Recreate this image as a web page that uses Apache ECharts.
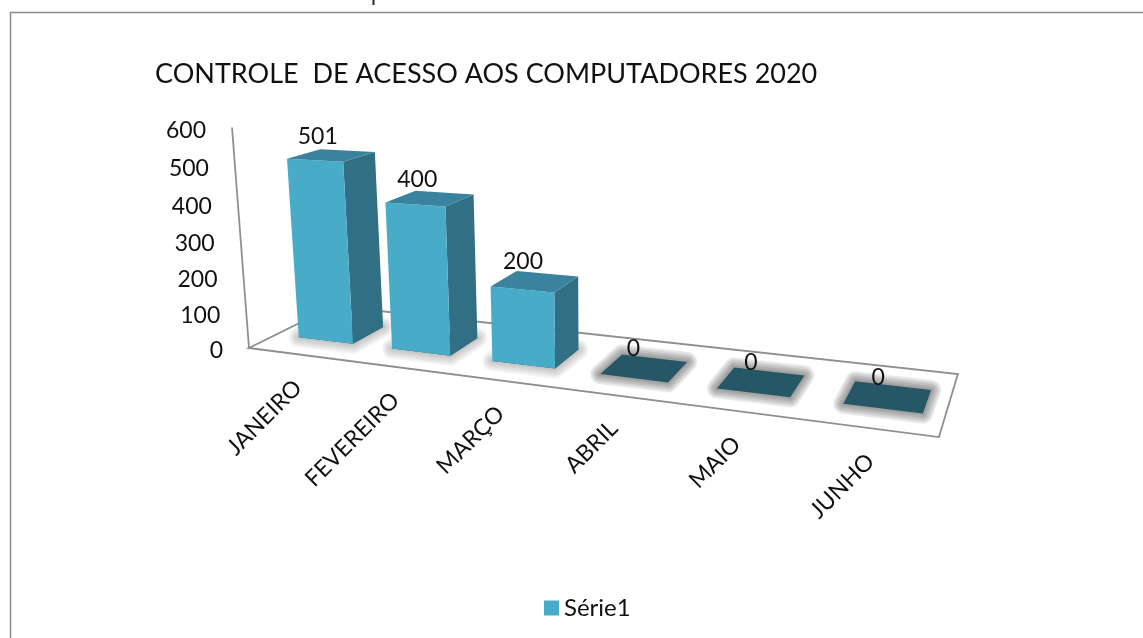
<!DOCTYPE html>
<html>
<head>
<meta charset="utf-8">
<title>Controle de acesso</title>
<style>
  html, body { margin: 0; padding: 0; background: #fff; }
  #chart { width: 1143px; height: 638px; }
</style>
<script src="https://cdn.jsdelivr.net/npm/echarts@6/dist/echarts.min.js"></script>
</head>
<body>
<div id="chart"></div>
<script>
// dados
var titleText = 'CONTROLE  DE ACESSO AOS COMPUTADORES 2020';
var seriesName = 'Série1';
var categories = ['JANEIRO', 'FEVEREIRO', 'MARÇO', 'ABRIL', 'MAIO', 'JUNHO'];
var values = [501, 400, 200, 0, 0, 0];
var yTicks = [0, 100, 200, 300, 400, 500, 600];

var font = 'Lato';
var colFront = '#48acc8', colSide = '#316f85', colTop = '#3a839e', colFlat = '#255766', colLine = '#8f8f8f';

// projecao: u,d no piso (0..1) e h altura (0..1), parametros ajustados na imagem
var G = -0.2122, H = 0.1123, K = -0.0462;
function project(u, d, h) {
  var w = 1 + G * u + H * d + K * h;
  return [
    (490.7 * u + 122.5 * d + 249 - 27.7 * h) / w,
    (-3.7 * u - 7.6 * d + 348 - 226.4 * h) / w
  ];
}
var dFront = 0.3, dBack = 0.68, marginLeft = 0.25, marginRight = 0.16;

// passa o ponto do eixo do echarts para (u,h) e depois projeta
function toUnit(params, api, cat, val) {
  var cs = params.coordSys, p = api.coord([cat, val]);
  return [(p[0] - cs.x) / cs.width, (cs.y + cs.height - p[1]) / cs.height];
}

function renderFloor(params, api) {
  var lineStyle = { stroke: colLine, lineWidth: 1.8, fill: null };
  return {
    type: 'group',
    children: [
      { type: 'polygon', shape: { points: [project(0, 0, 0), project(1, 0, 0), project(1, 1, 0), project(0, 1, 0)] }, style: lineStyle },
      { type: 'polyline', shape: { points: [project(0, 0, 0), project(0, 0, 1)] }, style: lineStyle }
    ]
  };
}

function renderBar(params, api) {
  var i = api.value(0), v = api.value(1);
  var c = toUnit(params, api, i, v);
  var band = api.size([1, 0])[0] / params.coordSys.width;
  var u0 = c[0] - band / 2 + band * marginLeft;
  var u1 = c[0] + band / 2 - band * marginRight;
  var h = c[1];
  var base = [project(u0, dFront, 0), project(u1, dFront, 0), project(u1, dBack, 0), project(u0, dBack, 0)];
  var top = [project(u0, dFront, h), project(u1, dFront, h), project(u1, dBack, h), project(u0, dBack, h)];
  var children = [];
  // sombra suave: contornos sobrepostos, do mais largo ao mais fino
  var shade = v > 0 ? 'rgba(50,50,50,0.06)' : 'rgba(50,50,50,0.11)';
  [20, 16, 12, 8, 4].forEach(function (w) {
    children.push({
      type: 'polygon', shape: { points: base },
      style: { fill: 'none', stroke: shade, lineWidth: w, lineJoin: 'round' }
    });
  });
  children.push({ type: 'polygon', shape: { points: base }, style: { fill: colFlat } });
  if (v > 0) {
    children.push(
      { type: 'polygon', shape: { points: [base[1], base[2], top[2], top[1]] }, style: { fill: colSide } },
      { type: 'polygon', shape: { points: [base[0], base[1], top[1], top[0]] }, style: { fill: colFront } },
      { type: 'polygon', shape: { points: top }, style: { fill: colTop } }
    );
  }
  return { type: 'group', children: children };
}

function renderValueLabel(params, api) {
  var i = api.value(0), v = api.value(1);
  var c = toUnit(params, api, i, v);
  var p = project(c[0], (dFront + dBack) / 2, c[1]);
  return {
    type: 'text', x: p[0] - 10 + 7 * c[0], y: p[1] - 19,
    style: { text: String(v), font: '23px ' + font, fill: '#111', textAlign: 'center', textVerticalAlign: 'middle' }
  };
}

function renderTick(params, api) {
  var c = toUnit(params, api, 0, api.value(0));
  var p = project(0, 0, c[1]);
  return {
    type: 'text', x: p[0] - 26, y: p[1] + 3,
    style: { text: String(api.value(0)), font: '23px ' + font, fill: '#111', textAlign: 'right', textVerticalAlign: 'middle' }
  };
}

function renderCategory(params, api) {
  var i = api.value(0);
  var c = toUnit(params, api, i, 0);
  var p = project(c[0], 0, 0);
  return {
    type: 'text', x: p[0] + 3, y: p[1] + 30, rotation: Math.PI / 4,
    style: { text: categories[i], font: '23px ' + font, fill: '#111', textAlign: 'right', textVerticalAlign: 'middle' }
  };
}

var myChart = echarts.init(document.getElementById('chart'));
var option = {
  animation: false,
  backgroundColor: '#fff',
  title: {
    text: titleText, left: 150, top: 56,
    textStyle: { fontFamily: font, fontSize: 27, fontWeight: 'normal', color: '#111' }
  },
  legend: {
    data: [seriesName], left: 539, top: 591,
    icon: 'rect', itemWidth: 15, itemHeight: 15, itemGap: 6,
    textStyle: { fontFamily: font, fontSize: 24, color: '#111' }
  },
  grid: { left: 100, right: 100, top: 100, bottom: 100 },
  xAxis: { type: 'category', data: categories, show: false },
  yAxis: { type: 'value', min: 0, max: 600, interval: 100, show: false },
  series: [
    { type: 'custom', renderItem: renderFloor, data: [[0, 0]], silent: true },
    {
      type: 'custom', name: seriesName, renderItem: renderBar,
      itemStyle: { color: colFront },
      data: values.map(function (v, i) { return [i, v]; })
    },
    { type: 'custom', renderItem: renderValueLabel, data: values.map(function (v, i) { return [i, v]; }), silent: true },
    { type: 'custom', renderItem: renderTick, encode: { y: 0 }, data: yTicks.map(function (t) { return [t]; }), silent: true },
    { type: 'custom', renderItem: renderCategory, data: categories.map(function (c, i) { return [i]; }), silent: true }
  ],
  graphic: [
    { type: 'polyline', shape: { points: [[10.5, 638], [10.5, 12.5], [1143, 12.5]] }, style: { stroke: '#8a8a8a', lineWidth: 1.5, fill: null } },
    { type: 'line', shape: { x1: 373.5, y1: 0, x2: 373.5, y2: 5 }, style: { stroke: '#222', lineWidth: 2 } }
  ]
};
myChart.setOption(option);
</script>
</body>
</html>
